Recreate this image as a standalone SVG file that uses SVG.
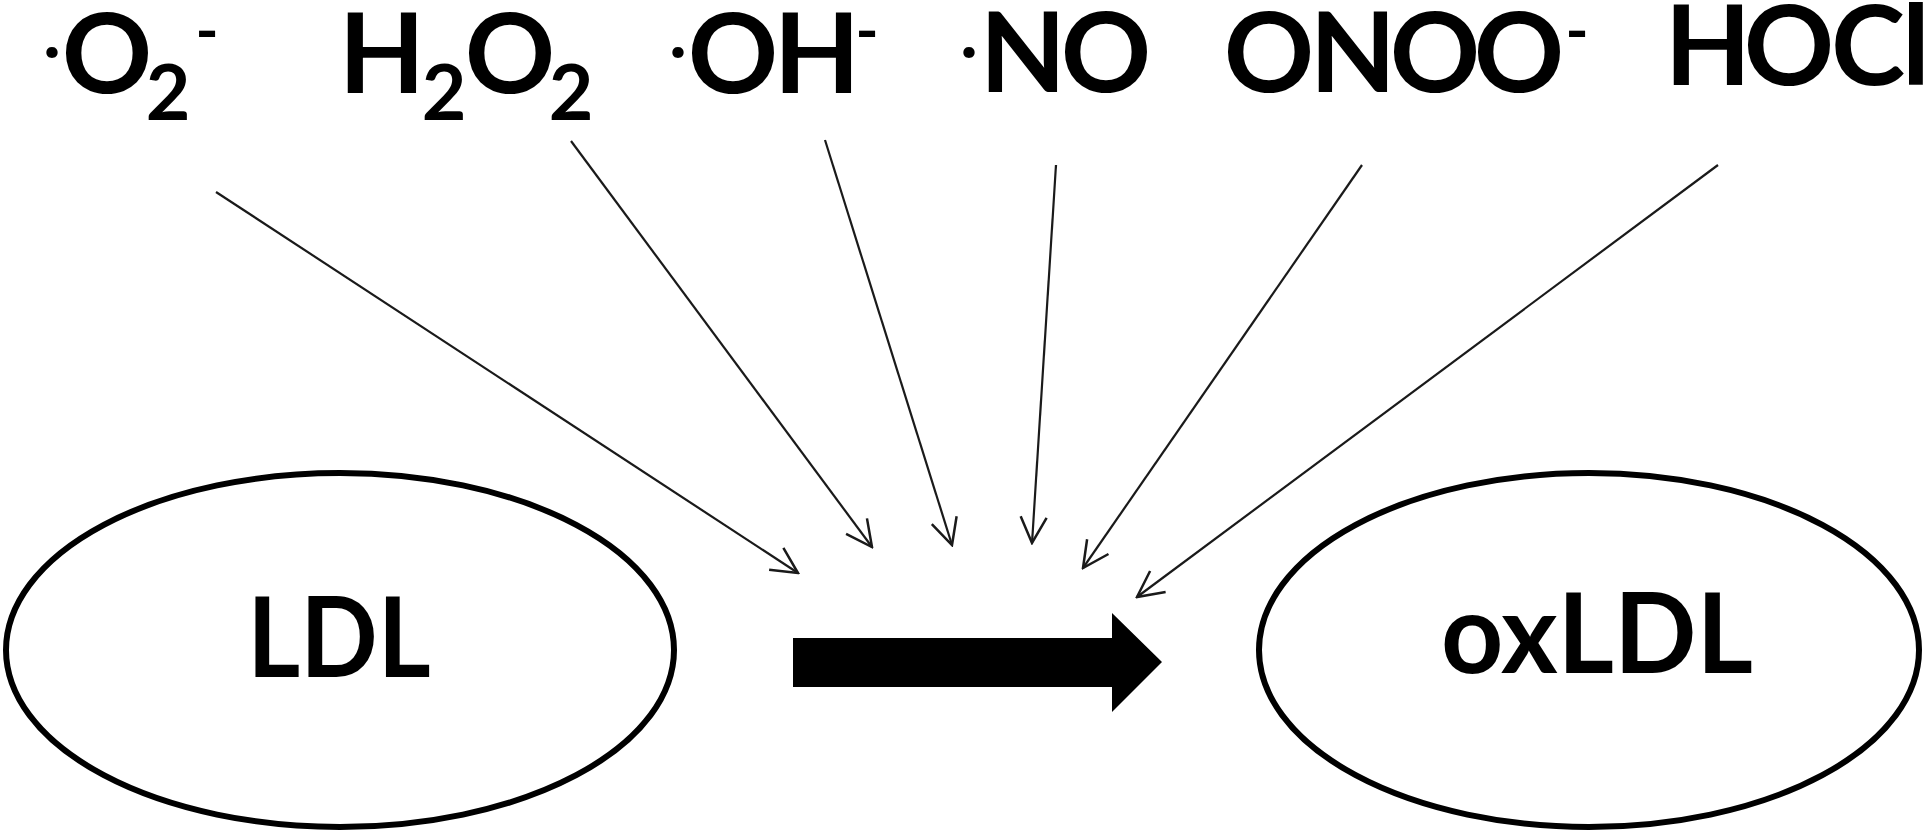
<svg xmlns="http://www.w3.org/2000/svg" width="1923" height="831" viewBox="0 0 1923 831">
<defs>
<style>
text{font-family:Lato,"Open Sans","Liberation Sans",sans-serif;font-weight:700;fill:#000;text-anchor:middle}
.g{font-size:112px}
.sub{font-size:77px}
.sup{font-size:62px}
.dot{font-size:60px}
.node{fill:#fff;stroke:#000;stroke-width:6}
.con{stroke:#1a1a1a;stroke-width:2.2;fill:none;marker-end:url(#ah)}
</style>
<marker id="ah" markerUnits="userSpaceOnUse" viewBox="0 0 30 30" refX="28" refY="15" markerWidth="30" markerHeight="30" orient="auto">
<path d="M2,2 L28,15 L2,28" fill="none" stroke="#1a1a1a" stroke-width="2.5"/>
</marker>
</defs>
<rect width="1923" height="831" fill="#fff"/>
<g id="labels">
<g id="o2"><text class="g"><tspan class="dot" x="52" y="70">·</tspan><tspan x="107" y="93">O</tspan><tspan class="sub" x="168" y="120">2</tspan><tspan class="sup" x="207" y="52">-</tspan></text></g>
<g id="h2o2"><text class="g"><tspan x="382" y="93">H</tspan><tspan class="sub" x="444" y="120">2</tspan><tspan x="510" y="93">O</tspan><tspan class="sub" x="571" y="120">2</tspan></text></g>
<g id="oh"><text class="g"><tspan class="dot" x="678" y="70">·</tspan><tspan x="733" y="93">O</tspan><tspan x="817" y="93">H</tspan><tspan class="sup" x="867" y="52">-</tspan></text></g>
<g id="no"><text class="g"><tspan class="dot" x="969" y="70">·</tspan><tspan x="1023" y="92">N</tspan><tspan x="1106" y="92">O</tspan></text></g>
<g id="onoo"><text class="g"><tspan x="1269" y="92">O</tspan><tspan x="1353" y="92">N</tspan><tspan x="1435" y="92">O</tspan><tspan x="1519" y="92">O</tspan><tspan class="sup" x="1577" y="52">-</tspan></text></g>
<g id="hocl"><text class="g"><tspan x="1708" y="85">H</tspan><tspan x="1789" y="85">O</tspan><tspan x="1868" y="85">C</tspan><tspan x="1916" y="85">l</tspan></text></g>
</g>
<g id="connectors">
<line class="con" x1="216" y1="192" x2="798" y2="573"/>
<line class="con" x1="571" y1="141" x2="872" y2="547"/>
<line class="con" x1="825" y1="140" x2="952" y2="545"/>
<line class="con" x1="1056" y1="165" x2="1032" y2="543"/>
<line class="con" x1="1362" y1="165" x2="1083" y2="568"/>
<line class="con" x1="1718" y1="165" x2="1137" y2="597"/>
<polygon id="main-arrow" points="793,638 1112,638 1112,613 1162,662 1112,712 1112,687 793,687" fill="#000"/>
</g>
<g id="ldl"><ellipse class="node" cx="340" cy="650" rx="334" ry="177"/><text class="g" transform="translate(339,677) scale(0.91,1)">LDL</text></g>
<g id="oxldl"><ellipse class="node" cx="1589" cy="650" rx="330" ry="177"/><text class="g" transform="translate(1597,673) scale(0.97,1)">oxLDL</text></g>
</svg>
